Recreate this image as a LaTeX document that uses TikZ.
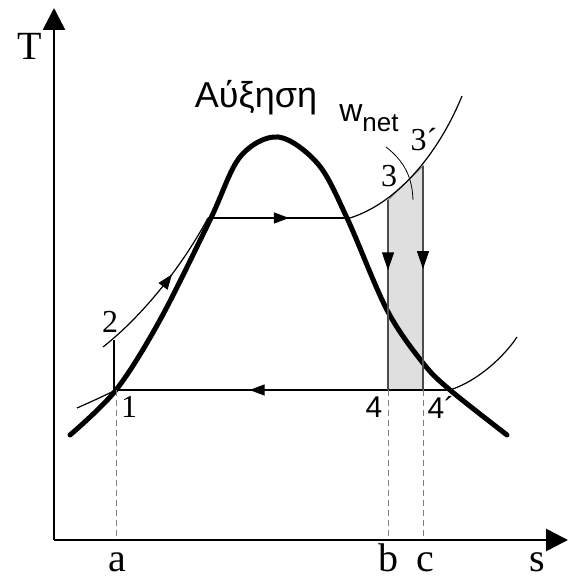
\documentclass[tikz,border=0pt]{standalone}
\usepackage{fontspec}
\setmainfont{Liberation Serif}
\newfontfamily\grsans{Liberation Sans}
\usetikzlibrary{arrows.meta,decorations.markings}

\newcommand{\fsz}[1]{\fontsize{#1}{#1}\selectfont}

\begin{document}
\begin{tikzpicture}[
    x=1pt, y=1pt,
    axis/.style={line width=2.6pt, -{Triangle[length=22pt,width=22pt]}},
    dome/.style={line width=5pt, line cap=round},
    thin/.style={line width=1.2pt},
    drop/.style={gray, line width=1pt, dash pattern=on 6pt off 4pt},
    lbl/.style={inner sep=0pt, font=\fsz{32}},
    axlbl/.style={inner sep=0pt, anchor=base, font=\fsz{40}},
    midarrow/.style={postaction={decorate}, decoration={markings,
        mark=at position #1 with {\arrow{Triangle[length=15pt,width=11pt]}}}},
    downarrow/.style={postaction={decorate}, decoration={markings,
        mark=at position #1 with {\arrow[black]{Triangle[length=18pt,width=12pt]}}}}
]
    \useasboundingbox (0,0) rectangle (568,580);

    % Axes
    \coordinate (o)  at (54,40);
    \coordinate (sx) at (568,40);
    \coordinate (ty) at (54,572);
    \draw[axis] (o) -- (sx);
    \draw[axis] (o) -- (ty);
    \node[axlbl] (T) at (30,520) {T};
    \node[axlbl] (s) at (537,9) {s};

    % States of the cycle
    \coordinate (p1)  at (116,190);
    \coordinate (p2)  at (114,240);
    \coordinate (f)   at (208,362);
    \coordinate (g)   at (350,362);
    \coordinate (p3)  at (388,380);
    \coordinate (p3b) at (423,414);
    \coordinate (p4)  at (388,190);
    \coordinate (p4b) at (450,190);
    \coordinate (p4c) at (423,190);

    % Shaded net work strip
    \filldraw[fill=gray!25, draw=gray, line width=1pt]
        (p4) -- (p3) -- (p3b) -- (p4c) -- cycle;

    % Saturation dome
    \draw[dome] plot[smooth, tension=0.55] coordinates {
        (70,145) (116,190) (160,260) (210,360) (240,423) (278,443)
        (318,416) (347,362) (387,270) (423,217) (450,190) (507,145)};

    % Cycle
    \coordinate (c0) at (103,233);
    \draw[thin] (p2 |- p1) -- (p2);
    \draw[thin, midarrow=0.6] (c0) .. controls (140,262) and (180,310) .. (f);
    \draw[thin, midarrow=0.57] (f) -- (g);
    \coordinate (sh) at (462,484);
    \draw[thin] (g) .. controls (400,378) and (440,430) .. (sh);
    \draw[thin, midarrow=0.6] (p4b) -- (p1);
    \draw[thin, gray!60!black, downarrow=0.37] (p3) -- (p4);
    \draw[thin, gray!60!black, downarrow=0.46] (p3b) -- (p4c);

    % Low pressure line outside the dome
    \coordinate (l0) at (77,172);
    \coordinate (l1) at (517,243);
    \draw[thin] (l0) .. controls (95,180) .. (p1);
    \draw[thin] (p4b) .. controls (480,200) and (505,225) .. (l1);

    % Drop lines to the s axis
    \coordinate (a) at (116,40);
    \coordinate (b) at (388,40);
    \coordinate (c) at (423,40);
    \draw[drop] (p1) -- (a);
    \draw[drop] (p4) -- (b);
    \draw[drop] (p4c) -- (c);
    \node[axlbl] (la) at (117,9) {a};
    \node[axlbl] (lb) at (388,9) {b};
    \node[axlbl] (lc) at (425,9) {c};

    % Labels
    \node[lbl] (l1n) at (129,173) {1};
    \node[lbl] (l2n) at (110,258) {2};
    \node[lbl] (l3n) at (389,404) {3};
    \node[lbl] (l3b) at (424,440) {3´};
    \node[lbl, font=\grsans\fsz{30}] (l4n)  at (374,173) {4};
    \node[lbl, font=\grsans\fsz{30}] (l4b)  at (441,173) {4´};
    \node[inner sep=0pt, font=\grsans\fsz{36}] (title) at (256,482) {Αύξηση};
    \node[inner sep=0pt, font=\grsans\fsz{32}] (wnet) at (369,462)
        {w\raisebox{-10pt}{\fsz{26}net}};
    \coordinate (w0) at (386,433);
    \coordinate (w1) at (413,380);
    \draw[line width=0.8pt] (w0) to[bend left=25] (w1);
\end{tikzpicture}
\end{document}
